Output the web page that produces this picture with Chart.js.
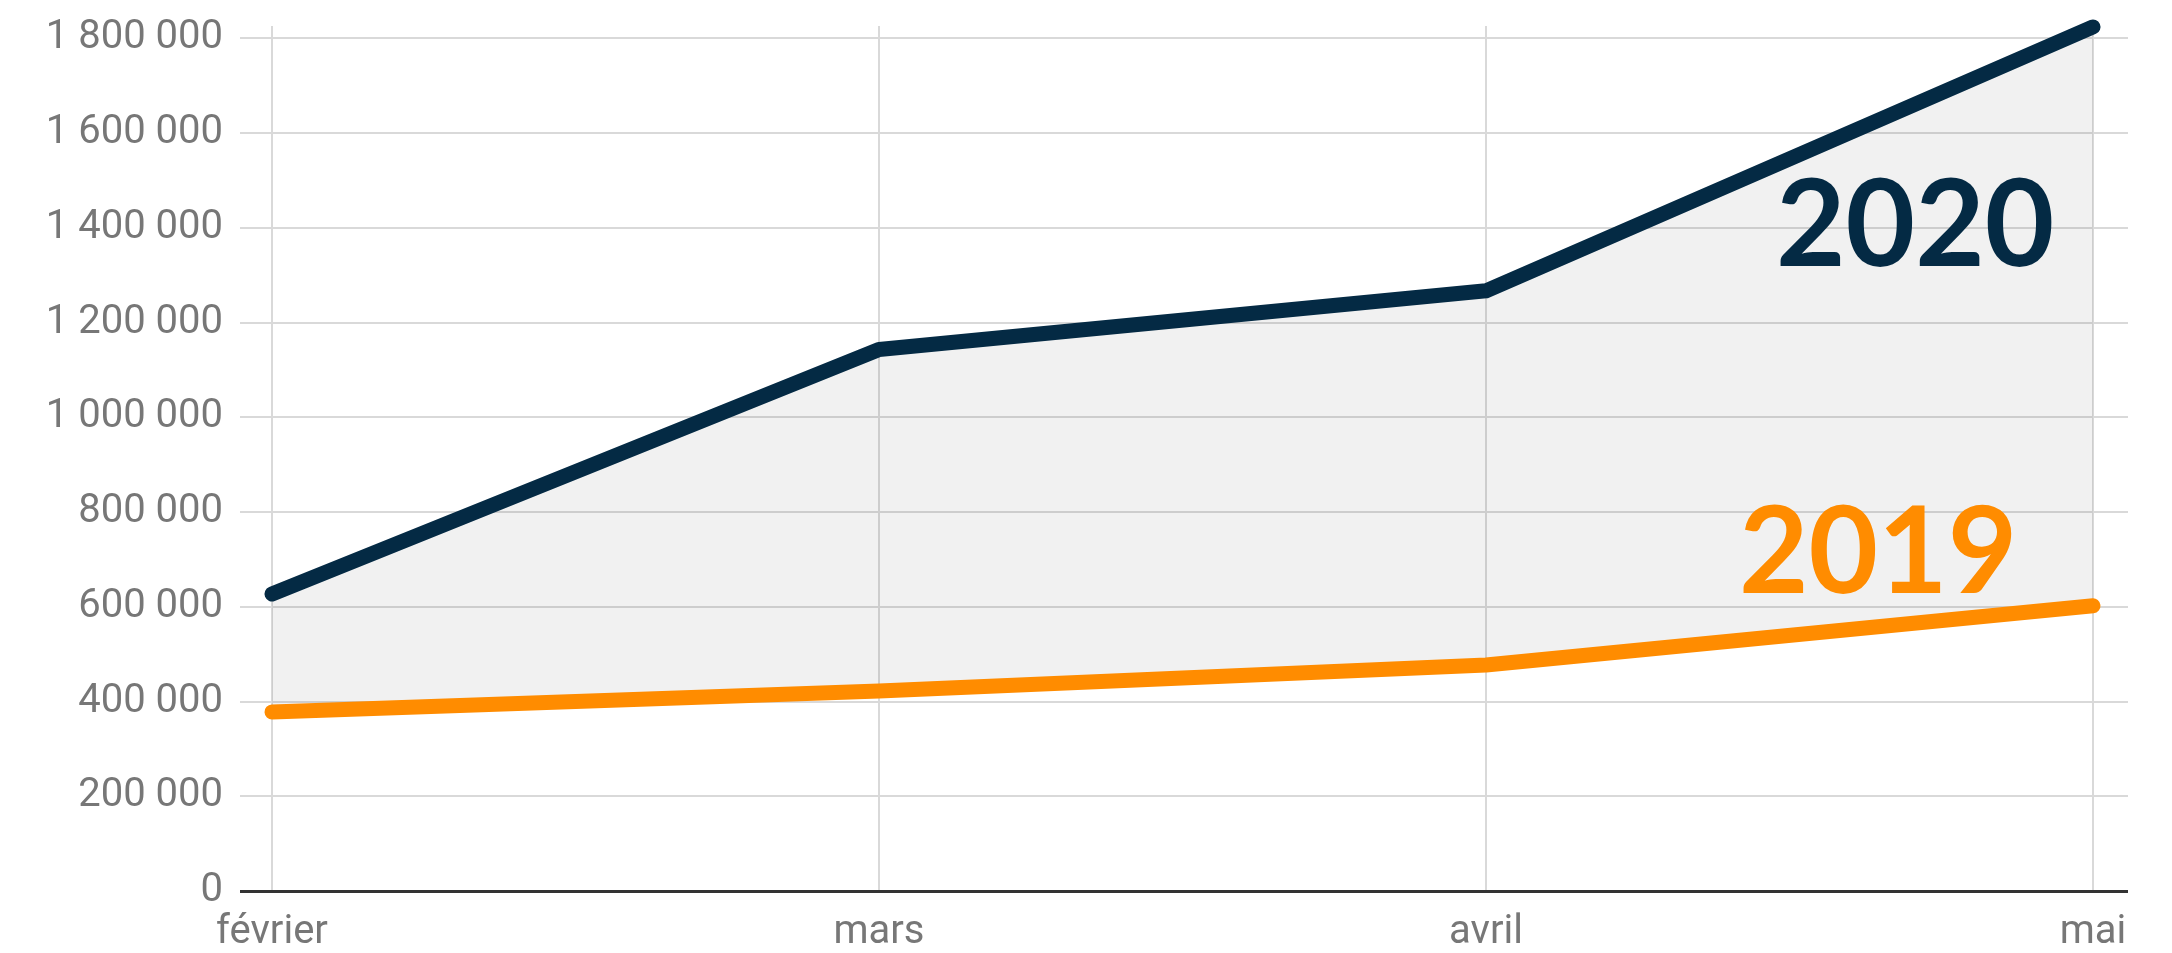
<!DOCTYPE html>
<html lang="fr">
<head>
<meta charset="utf-8">
<title>2019 / 2020</title>
<script src="https://cdn.jsdelivr.net/npm/chart.js@4/dist/chart.umd.min.js"></script>
<style>
  html, body { margin: 0; padding: 0; background: #fff; }
  #wrap { width: 2172px; height: 953px; position: relative; }
</style>
</head>
<body>
<div id="wrap"><canvas id="graphique"></canvas></div>
<script>
// données
const mois = ["février", "mars", "avril", "mai"];
const valeurs2019 = [378000, 422000, 477000, 602000];
const valeurs2020 = [627000, 1143000, 1267000, 1824000];
const graduations = [0, 200000, 400000, 600000, 800000, 1000000, 1200000, 1400000, 1600000, 1800000];

const BLEU = "#042a44";
const ORANGE = "#ff8c00";
const GRILLE = "#d9d9d9";

const fmt = (n) => String(n).replace(/\B(?=(\d{3})+(?!\d))/g, " ");

// étiquettes "2019" / "2020" posées dans le graphique
const etiquettesAnnees = {
    id: "etiquettesAnnees",
    afterDatasetsDraw(chart, args, opts) {
        const { ctx, scales: { x, y } } = chart;
        ctx.save();
        ctx.font = "bold 120px Lato";
        ctx.textAlign = "center";
        ctx.textBaseline = "alphabetic";
        opts.items.forEach(it => {
            ctx.fillStyle = it.color;
            ctx.fillText(it.text, x.getPixelForValue(it.x), y.getPixelForValue(it.y));
        });
        ctx.restore();
    }
};

const couleurGrille = (c) => (c.tick && c.tick.value === 0 ? "#333" : GRILLE);
const largeurGrille = (c) => (c.tick && c.tick.value === 0 ? 3 : 2);
const garderGraduations = (scale) => {
    scale.ticks = graduations.map(v => ({ value: v }));
};

new Chart(document.getElementById("graphique").getContext("2d"), {
    type: "line",
    data: {
        labels: mois,
        datasets: [
            {
                label: "2019",
                data: valeurs2019,
                borderColor: ORANGE,
                borderWidth: 15,
                borderCapStyle: "round",
                borderJoinStyle: "round",
                pointRadius: 0,
                fill: false,
                tension: 0,
                clip: false,
            },
            {
                label: "2020",
                data: valeurs2020,
                borderColor: BLEU,
                borderWidth: 15,
                borderCapStyle: "round",
                borderJoinStyle: "round",
                pointRadius: 0,
                fill: "-1",
                backgroundColor: "rgba(0,0,0,0.055)",
                tension: 0,
                clip: false,
            },
        ],
    },
    options: {
        responsive: true,
        maintainAspectRatio: false,
        animation: false,
        layout: { padding: { top: 26, left: 0, right: 44, bottom: 0 } },
        plugins: {
            legend: { display: false },
            tooltip: { enabled: false },
            etiquettesAnnees: {
                items: [
                    { text: "2020", color: BLEU, x: 2.707, y: 1320000 },
                    { text: "2019", color: ORANGE, x: 2.646, y: 629000 },
                ],
            },
        },
        scales: {
            x: {
                grid: { color: GRILLE, lineWidth: 2, drawTicks: false },
                border: { display: false },
                ticks: {
                    color: "#777",
                    font: { family: "Roboto", size: 40 },
                    padding: 18,
                    maxRotation: 0,
                    autoSkip: false,
                },
                afterFit(scale) { scale.height = 62; },
            },
            y: {
                min: 0,
                max: 1826000,
                afterBuildTicks: garderGraduations,
                grid: { color: couleurGrille, lineWidth: largeurGrille, tickLength: 32 },
                border: { display: false },
                ticks: {
                    color: "#777",
                    font: { family: "Roboto", size: 40 },
                    padding: 17,
                    callback: (v) => fmt(v),
                },
                afterFit(scale) { scale.width = 272; scale.paddingTop = 0; scale.paddingBottom = 0; },
            },
            yDroite: {
                position: "right",
                min: 0,
                max: 1826000,
                afterBuildTicks: garderGraduations,
                grid: { color: couleurGrille, lineWidth: largeurGrille, tickLength: 35, drawOnChartArea: false },
                border: { display: false },
                ticks: { display: false },
                afterFit(scale) { scale.width = 35; scale.paddingTop = 0; scale.paddingBottom = 0; },
            },
        },
    },
    plugins: [etiquettesAnnees],
});
</script>
</body>
</html>
